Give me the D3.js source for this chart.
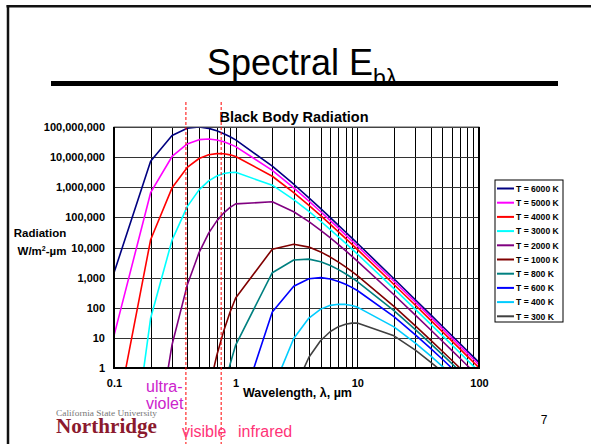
<!DOCTYPE html>
<html>
<head>
<meta charset="utf-8">
<script src="https://cdn.jsdelivr.net/npm/d3@7"></script>
<style>
  body { margin: 0; background: #fff; }
  svg { display: block; font-family: Arial, "Liberation Sans", sans-serif; }
</style>
</head>
<body>
<svg id="slide" width="591" height="444"></svg>
<script>
// wavelengths in micrometres, values in W/m2-um (null = not plotted)
var wavelengths = [0.1, 0.2, 0.3, 0.4, 0.5, 0.6, 0.7, 0.8, 0.9, 1,
  2, 3, 4, 5, 6, 7, 8, 9, 10, 20, 30, 40, 50, 60, 70, 80, 90, 100];

var e6000 = [1441, 7.26e6, 5.20e7, 9.13e7, 9.98e7, 9.01e7, 7.48e7, 6.00e7, 4.75e7, 3.74e7,
  5.05e6, 1.26e6, 4.45e5, 1.95e5, 9.79e4, 5.45e4, 3.27e4, 2.08e4, 1.38e4, 918, 185, 59.2, 24.4, 11.8, 6.39, 3.75, 2.35, 1.54];
var e5000 = [11.9, 6.59e5, 1.05e7, 2.75e7, 3.80e7, 4.01e7, 3.71e7, 3.22e7, 2.70e7, 2.23e7,
  3.64e6, 9.57e5, 3.47e5, 1.54e5, 7.82e4, 4.38e4, 2.64e4, 1.68e4, 1.12e4, 756, 153, 49.0, 20.2, 9.79, 5.30, 3.12, 1.95, 1.28];
var e4000 = [0.00894, 1.81e4, 9.56e5, 4.54e6, 9.00e6, 1.20e7, 1.31e7, 1.29e7, 1.19e7, 1.05e7,
  2.32e6, 6.65e5, 2.51e5, 1.14e5, 5.86e4, 3.31e4, 2.01e4, 1.29e4, 8644, 593, 121, 38.8, 16.1, 7.79, 4.22, 2.48, 1.55, 1.02];
var e3000 = [5.55e-8, 45.0, 1.76e4, 2.27e5, 8.17e5, 1.63e6, 2.36e6, 2.85e6, 3.09e6, 3.12e6,
  1.17e6, 3.90e5, 1.58e5, 7.44e4, 3.93e4, 2.26e4, 1.39e4, 9000, 6081, 431, 88.8, 28.7, 11.9, 5.78, 3.14, 1.85, 1.16, 0.762];
var e2000 = [null, 2.79e-4, 5.93, 565, 6751, 2.99e4, 7.66e4, 1.42e5, 2.14e5, 2.81e5,
  3.29e5, 1.54e5, 7.25e4, 3.72e4, 2.08e4, 1.24e4, 7833, 5177, 3553, 270, 56.8, 18.6, 7.74, 3.78, 2.06, 1.21, 0.762, 0.502];
var e1000 = [null, null, null, null, 0.00381, 0.185, 2.64, 17.7, 72.3, 211,
  8789, 1.28e4, 1.03e4, 7138, 4812, 3269, 2266, 1606, 1164, 111, 25.0, 8.44, 3.59, 1.78, 0.976, 0.580, 0.366, 0.242];
var e800 = [null, null, null, null, null, null, 0.0155, 0.197, 1.33, 5.79,
  1454, 3846, 4121, 3373, 2527, 1846, 1348, 994, 743, 80.2, 18.8, 6.44, 2.77, 1.38, 0.760, 0.453, 0.287, 0.190];
var e600 = [null, null, null, null, null, null, null, null, 0.00171, 0.0144,
  72.6, 520, 913, 998, 901, 748, 600, 475, 374, 50.5, 12.6, 4.45, 1.95, 0.979, 0.545, 0.327, 0.208, 0.138];
var e400 = [null, null, null, null, null, null, null, null, null, null,
  0.181, 9.56, 45.4, 90.0, 120, 131, 129, 119, 105, 23.2, 6.65, 2.51, 1.14, 0.586, 0.331, 0.201, 0.129, 0.0864];
var e300 = [null, null, null, null, null, null, null, null, null, null,
  null, 0.176, 2.27, 8.17, 16.3, 23.6, 28.5, 30.9, 31.2, 11.7, 3.90, 1.58, 0.744, 0.393, 0.226, 0.139, 0.090, 0.0608];

var labels = ['T = 6000 K', 'T = 5000 K', 'T = 4000 K', 'T = 3000 K', 'T = 2000 K',
  'T = 1000 K', 'T = 800 K', 'T = 600 K', 'T = 400 K', 'T = 300 K'];
var colors = ['#000080', '#ff00ff', '#ff0000', '#00ffff', '#800080',
  '#800000', '#008080', '#0000ff', '#00ccff', '#404040'];
var series = [e6000, e5000, e4000, e3000, e2000, e1000, e800, e600, e400, e300];

var xTicks = [0.1, 1, 10, 100];
var yTicks = [1, 10, 100, 1000, 1e4, 1e5, 1e6, 1e7, 1e8];
var visibleBand = [0.39, 0.76];

var svg = d3.select('#slide'),
  plotLeft = 114, plotRight = 479, plotTop = 127, plotBottom = 368;

// slide frame
svg.append('line').attr('x1', 6.5).attr('x2', 591).attr('y1', 6.3).attr('y2', 6.3)
  .style('stroke', '#111').style('stroke-width', 2.5);
svg.append('line').attr('x1', 8).attr('x2', 8).attr('y1', 5).attr('y2', 444)
  .style('stroke', '#111').style('stroke-width', 2.5);

// slide title
var title = svg.append('text').attr('x', 207).attr('y', 75)
  .style('font-size', '36px').style('fill', '#000');
title.append('tspan').text('Spectral E');
title.append('tspan').attr('dy', 11).style('font-size', '23px').text('bλ');
svg.append('rect').attr('x', 51).attr('y', 81).attr('width', 507).attr('height', 5)
  .style('fill', '#000');

var x = d3.scaleLog().domain([0.1, 100]).range([plotLeft, plotRight]),
  y = d3.scaleLog().domain([1, 1e8]).range([plotBottom, plotTop]);

svg.append('text').attr('x', 294).attr('y', 122).attr('text-anchor', 'middle')
  .style('font-size', '14.5px').style('font-weight', 'bold').text('Black Body Radiation');

svg.append('clipPath').attr('id', 'plot')
  .append('rect').attr('x', plotLeft).attr('y', plotTop)
  .attr('width', plotRight - plotLeft).attr('height', plotBottom - plotTop);

// grid
var grid = svg.append('g').style('stroke', '#000').style('stroke-width', 1);
grid.selectAll('line.v')
  .data(x.ticks())
  .enter()
  .append('line')
  .attr('x1', d => Math.round(x(d)) + 0.5).attr('x2', d => Math.round(x(d)) + 0.5)
  .attr('y1', plotTop).attr('y2', plotBottom);
grid.selectAll('line.h')
  .data(yTicks)
  .enter()
  .append('line')
  .attr('y1', d => Math.round(y(d)) + 0.5).attr('y2', d => Math.round(y(d)) + 0.5)
  .attr('x1', plotLeft).attr('x2', plotRight)
  .style('stroke', '#333');

// curves
var line = d3.line()
  .defined(d => d[1] != null)
  .x(d => x(d[0]))
  .y(d => y(d[1]));

svg.append('g')
  .attr('clip-path', 'url(#plot)')
  .selectAll('path')
  .data(series)
  .enter()
  .append('path')
  .attr('d', s => line(s.map((v, i) => [wavelengths[i], v])))
  .style('fill', 'none')
  .style('stroke', (s, i) => colors[i])
  .style('stroke-width', 1.6)
  .style('stroke-linejoin', 'round');

// plot border
svg.append('rect').attr('x', plotLeft).attr('y', plotTop)
  .attr('width', plotRight - plotLeft).attr('height', plotBottom - plotTop)
  .style('fill', 'none').style('stroke', '#555').style('stroke-width', 1);
svg.append('path')
  .attr('d', 'M' + plotLeft + ',' + plotTop + 'V' + plotBottom + 'H' + plotRight + 'V' + plotTop)
  .style('fill', 'none').style('stroke', '#000').style('stroke-width', 2);

// axes
var xAxis = svg.append('g')
  .attr('transform', 'translate(0,' + plotBottom + ')')
  .call(d3.axisBottom(x).tickValues(xTicks).tickFormat(d3.format('')).tickSize(0).tickPadding(11));
var yAxis = svg.append('g')
  .attr('transform', 'translate(' + plotLeft + ',0)')
  .call(d3.axisLeft(y).tickValues(yTicks).tickFormat(d3.format(',')).tickSize(0).tickPadding(9));
[xAxis, yAxis].forEach(function(g) {
  g.select('.domain').remove();
  g.attr('font-family', null).attr('font-size', 11).attr('font-weight', 'bold');
  g.selectAll('text').style('fill', '#000');
});

svg.append('text').attr('x', 243).attr('y', 397)
  .attr('textLength', 109).attr('lengthAdjust', 'spacingAndGlyphs')
  .style('font-size', '12px').style('font-weight', 'bold')
  .text('Wavelength, λ, µm');

var yTitle = svg.append('g').style('font-size', '11.5px').style('font-weight', 'bold')
  .attr('text-anchor', 'middle');
yTitle.append('text').attr('x', 40).attr('y', 237).text('Radiation');
var unit = yTitle.append('text').attr('x', 42).attr('y', 255);
unit.append('tspan').text('W/m');
unit.append('tspan').attr('dy', -4).style('font-size', '7px').text('2');
unit.append('tspan').attr('dy', 4).text('-µm');

// legend
var legend = svg.append('g').attr('transform', 'translate(495,180)');
legend.append('rect').attr('width', 68).attr('height', 142)
  .style('fill', '#fff').style('stroke', '#000').style('stroke-width', 1);
var item = legend.selectAll('g.item')
  .data(labels)
  .enter()
  .append('g')
  .attr('transform', (d, i) => 'translate(0,' + (8.5 + i * 14.2) + ')');
item.append('line').attr('x1', 2).attr('x2', 19)
  .style('stroke', (d, i) => colors[i]).style('stroke-width', 2);
item.append('text').attr('x', 21).attr('y', 3.2)
  .style('font-size', '8.6px').style('font-weight', 'bold')
  .text(d => d);

// visible band markers
svg.selectAll('line.band')
  .data(visibleBand)
  .enter()
  .append('line')
  .attr('x1', d => x(d)).attr('x2', d => x(d))
  .attr('y1', 102).attr('y2', 444)
  .style('stroke', '#ff0000').style('stroke-width', 1)
  .style('stroke-dasharray', '3,2');

svg.append('text').attr('x', 146).attr('y', 392).style('font-size', '16px').style('fill', '#cc22cc').text('ultra-');
svg.append('text').attr('x', 146).attr('y', 409).style('font-size', '16px').style('fill', '#cc22cc').text('violet');
svg.append('text').attr('x', 182).attr('y', 437).style('font-size', '16px').style('fill', '#ff3377').text('visible');
svg.append('text').attr('x', 238).attr('y', 437).style('font-size', '16px').style('fill', '#ff3377').text('infrared');

// footer
svg.append('text').attr('x', 56).attr('y', 416)
  .attr('textLength', 101).attr('lengthAdjust', 'spacingAndGlyphs')
  .style('font-family', '"Liberation Serif", "DejaVu Serif", serif')
  .style('font-size', '9px').style('fill', '#777')
  .text('California State University');
svg.append('text').attr('x', 56).attr('y', 433)
  .attr('textLength', 101).attr('lengthAdjust', 'spacingAndGlyphs')
  .style('font-family', '"Liberation Serif", "DejaVu Serif", serif')
  .style('font-size', '21px').style('font-weight', 'bold').style('fill', '#8b1a2e')
  .text('Northridge');
svg.append('text').attr('x', 544).attr('y', 424).attr('text-anchor', 'middle')
  .style('font-size', '12px').text('7');
</script>
</body>
</html>
